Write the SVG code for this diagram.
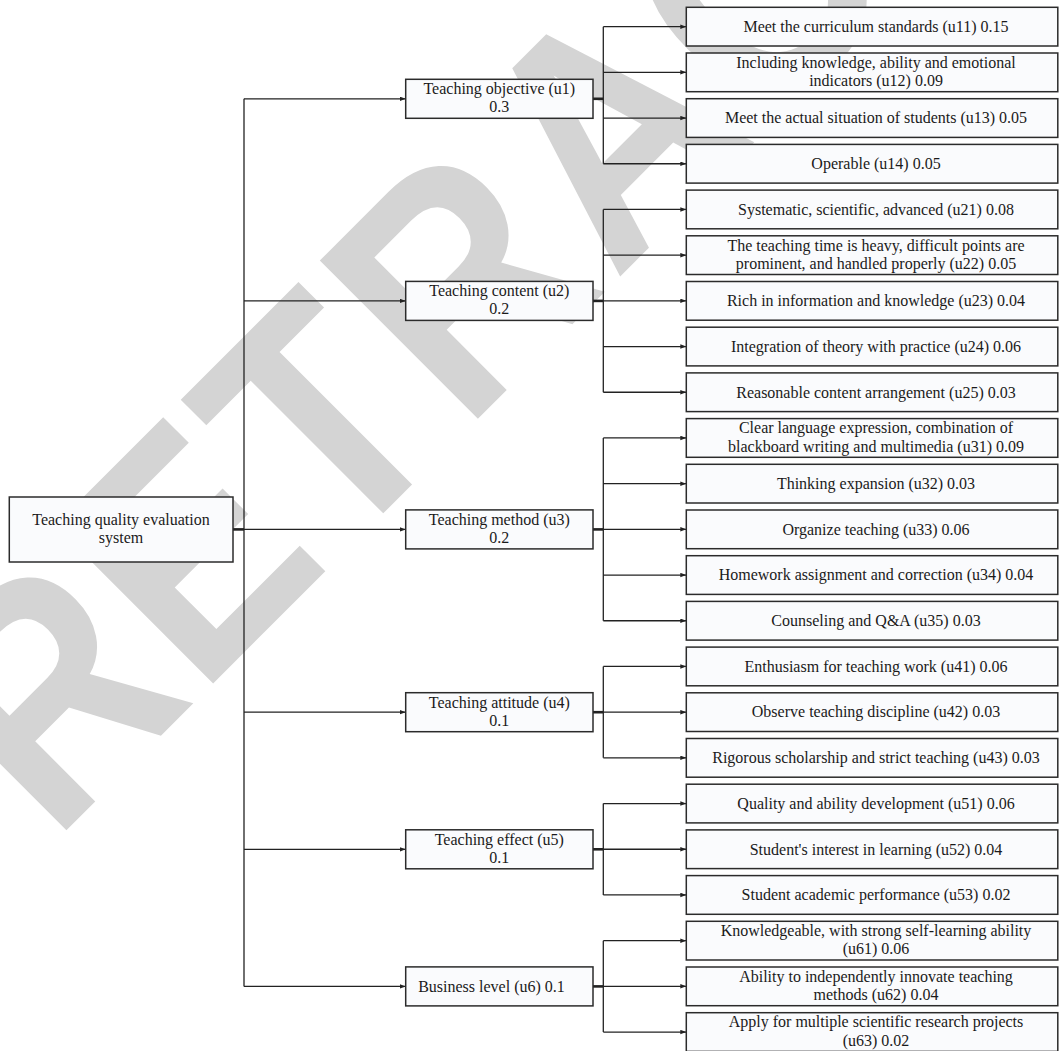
<svg xmlns="http://www.w3.org/2000/svg" width="1059" height="1051" viewBox="0 0 1059 1051">
<style>
.bx{fill:#fafbfd;stroke:#2b2b2b;stroke-width:1.5}
.t{font-family:"Liberation Serif","Times New Roman",serif;font-size:16px;fill:#1a1a1a;text-anchor:middle}
.ln{fill:none;stroke:#222;stroke-width:1.3}
.st{fill:none;stroke:#222;stroke-width:2.6}
.ar{marker-end:url(#ah)}
.wm{font-family:"Liberation Sans",Arial,sans-serif;font-weight:bold;font-size:325px;fill:#d4d4d4}
</style>
<defs>
<marker id="ah" markerWidth="7" markerHeight="5" refX="6" refY="2.25" orient="auto" markerUnits="userSpaceOnUse"><path d="M0,0 L6,2.25 L0,4.5 z" fill="#222"/></marker>
</defs>
<rect width="1059" height="1051" fill="#ffffff"/>
<text class="wm" transform="rotate(-45) scale(0.87,1)" x="-642.5 -404 -181.6 26.4 271.3 505.7 740.2 939.1 1156.3" y="634">RETRACTED</text>
<g id="connectors">
<path class="st" d="M233,529.4 H244"/>
<path class="ln" d="M244,98.8 V986.4"/>
<path class="ln ar" d="M244,98.8 H405.7"/>
<path class="ln ar" d="M244,300.9 H405.7"/>
<path class="ln ar" d="M244,529.4 H405.7"/>
<path class="ln ar" d="M244,712.2 H405.7"/>
<path class="ln ar" d="M244,849.3 H405.7"/>
<path class="ln ar" d="M244,986.4 H405.7"/>
<path class="st" d="M593,98.8 H603.3"/>
<path class="st" d="M593,300.9 H603.3"/>
<path class="st" d="M593,529.4 H603.3"/>
<path class="st" d="M593,712.2 H603.3"/>
<path class="st" d="M593,849.3 H603.3"/>
<path class="st" d="M593,986.4 H603.3"/>
<path class="ln" d="M603.3,26.65 V163.75"/>
<path class="ln" d="M603.3,209.45 V392.25"/>
<path class="ln" d="M603.3,437.95 V620.75"/>
<path class="ln" d="M603.3,666.45 V757.85"/>
<path class="ln" d="M603.3,803.55 V894.95"/>
<path class="ln" d="M603.3,940.65 V1032.05"/>
<path class="ln ar" d="M603.3,26.65 H686.3"/>
<path class="ln ar" d="M603.3,72.35 H686.3"/>
<path class="ln ar" d="M603.3,118.05 H686.3"/>
<path class="ln ar" d="M603.3,163.75 H686.3"/>
<path class="ln ar" d="M603.3,209.45 H686.3"/>
<path class="ln ar" d="M603.3,255.15 H686.3"/>
<path class="ln ar" d="M603.3,300.85 H686.3"/>
<path class="ln ar" d="M603.3,346.55 H686.3"/>
<path class="ln ar" d="M603.3,392.25 H686.3"/>
<path class="ln ar" d="M603.3,437.95 H686.3"/>
<path class="ln ar" d="M603.3,483.65 H686.3"/>
<path class="ln ar" d="M603.3,529.35 H686.3"/>
<path class="ln ar" d="M603.3,575.05 H686.3"/>
<path class="ln ar" d="M603.3,620.75 H686.3"/>
<path class="ln ar" d="M603.3,666.45 H686.3"/>
<path class="ln ar" d="M603.3,712.15 H686.3"/>
<path class="ln ar" d="M603.3,757.85 H686.3"/>
<path class="ln ar" d="M603.3,803.55 H686.3"/>
<path class="ln ar" d="M603.3,849.25 H686.3"/>
<path class="ln ar" d="M603.3,894.95 H686.3"/>
<path class="ln ar" d="M603.3,940.65 H686.3"/>
<path class="ln ar" d="M603.3,986.35 H686.3"/>
<path class="ln ar" d="M603.3,1032.05 H686.3"/>
</g>
<g id="root"><rect class="bx" x="9.3" y="497" width="223.7" height="65"/><text class="t" x="121" y="525">Teaching quality evaluation</text><text class="t" x="121" y="543">system</text></g>
<g id="u1"><rect class="bx" x="405.7" y="79.3" width="187.3" height="39"/><text class="t" x="499.3" y="94.2">Teaching objective (u1)</text><text class="t" x="499.3" y="112.2">0.3</text></g>
<g id="u2"><rect class="bx" x="405.7" y="281.4" width="187.3" height="39"/><text class="t" x="499.3" y="296.3">Teaching content (u2)</text><text class="t" x="499.3" y="314.3">0.2</text></g>
<g id="u3"><rect class="bx" x="405.7" y="509.9" width="187.3" height="39"/><text class="t" x="499.3" y="524.8">Teaching method (u3)</text><text class="t" x="499.3" y="542.8">0.2</text></g>
<g id="u4"><rect class="bx" x="405.7" y="692.7" width="187.3" height="39"/><text class="t" x="499.3" y="707.6">Teaching attitude (u4)</text><text class="t" x="499.3" y="725.6">0.1</text></g>
<g id="u5"><rect class="bx" x="405.7" y="829.8" width="187.3" height="39"/><text class="t" x="499.3" y="844.7">Teaching effect (u5)</text><text class="t" x="499.3" y="862.7">0.1</text></g>
<g id="u6"><rect class="bx" x="405.7" y="966.9" width="187.3" height="39"/><text class="t" x="491.5" y="991.7">Business level (u6) 0.1</text></g>
<g id="u11"><rect class="bx" x="686.3" y="7.3" width="371.5" height="38.7"/><text class="t" x="876" y="31.9">Meet the curriculum standards (u11) 0.15</text></g>
<g id="u12"><rect class="bx" x="686.3" y="53" width="371.5" height="38.7"/><text class="t" x="876" y="67.7">Including knowledge, ability and emotional</text><text class="t" x="876" y="86">indicators (u12) 0.09</text></g>
<g id="u13"><rect class="bx" x="686.3" y="98.7" width="371.5" height="38.7"/><text class="t" x="876" y="123.3">Meet the actual situation of students (u13) 0.05</text></g>
<g id="u14"><rect class="bx" x="686.3" y="144.4" width="371.5" height="38.7"/><text class="t" x="876" y="169">Operable (u14) 0.05</text></g>
<g id="u21"><rect class="bx" x="686.3" y="190.1" width="371.5" height="38.7"/><text class="t" x="876" y="214.7">Systematic, scientific, advanced (u21) 0.08</text></g>
<g id="u22"><rect class="bx" x="686.3" y="235.8" width="371.5" height="38.7"/><text class="t" x="876" y="250.5">The teaching time is heavy, difficult points are</text><text class="t" x="876" y="268.8">prominent, and handled properly (u22) 0.05</text></g>
<g id="u23"><rect class="bx" x="686.3" y="281.5" width="371.5" height="38.7"/><text class="t" x="876" y="306.1">Rich in information and knowledge (u23) 0.04</text></g>
<g id="u24"><rect class="bx" x="686.3" y="327.2" width="371.5" height="38.7"/><text class="t" x="876" y="351.8">Integration of theory with practice (u24) 0.06</text></g>
<g id="u25"><rect class="bx" x="686.3" y="372.9" width="371.5" height="38.7"/><text class="t" x="876" y="397.5">Reasonable content arrangement (u25) 0.03</text></g>
<g id="u31"><rect class="bx" x="686.3" y="418.6" width="371.5" height="38.7"/><text class="t" x="876" y="433.3">Clear language expression, combination of</text><text class="t" x="876" y="451.6">blackboard writing and multimedia (u31) 0.09</text></g>
<g id="u32"><rect class="bx" x="686.3" y="464.3" width="371.5" height="38.7"/><text class="t" x="876" y="488.9">Thinking expansion (u32) 0.03</text></g>
<g id="u33"><rect class="bx" x="686.3" y="510" width="371.5" height="38.7"/><text class="t" x="876" y="534.6">Organize teaching (u33) 0.06</text></g>
<g id="u34"><rect class="bx" x="686.3" y="555.7" width="371.5" height="38.7"/><text class="t" x="876" y="580.3">Homework assignment and correction (u34) 0.04</text></g>
<g id="u35"><rect class="bx" x="686.3" y="601.4" width="371.5" height="38.7"/><text class="t" x="876" y="626">Counseling and Q&amp;A (u35) 0.03</text></g>
<g id="u41"><rect class="bx" x="686.3" y="647.1" width="371.5" height="38.7"/><text class="t" x="876" y="671.7">Enthusiasm for teaching work (u41) 0.06</text></g>
<g id="u42"><rect class="bx" x="686.3" y="692.8" width="371.5" height="38.7"/><text class="t" x="876" y="717.4">Observe teaching discipline (u42) 0.03</text></g>
<g id="u43"><rect class="bx" x="686.3" y="738.5" width="371.5" height="38.7"/><text class="t" x="876" y="763.1">Rigorous scholarship and strict teaching (u43) 0.03</text></g>
<g id="u51"><rect class="bx" x="686.3" y="784.2" width="371.5" height="38.7"/><text class="t" x="876" y="808.8">Quality and ability development (u51) 0.06</text></g>
<g id="u52"><rect class="bx" x="686.3" y="829.9" width="371.5" height="38.7"/><text class="t" x="876" y="854.5">Student's interest in learning (u52) 0.04</text></g>
<g id="u53"><rect class="bx" x="686.3" y="875.6" width="371.5" height="38.7"/><text class="t" x="876" y="900.2">Student academic performance (u53) 0.02</text></g>
<g id="u61"><rect class="bx" x="686.3" y="921.3" width="371.5" height="38.7"/><text class="t" x="876" y="936">Knowledgeable, with strong self-learning ability</text><text class="t" x="876" y="954.3">(u61) 0.06</text></g>
<g id="u62"><rect class="bx" x="686.3" y="967" width="371.5" height="38.7"/><text class="t" x="876" y="981.7">Ability to independently innovate teaching</text><text class="t" x="876" y="1000">methods (u62) 0.04</text></g>
<g id="u63"><rect class="bx" x="686.3" y="1012.7" width="371.5" height="38.7"/><text class="t" x="876" y="1027.4">Apply for multiple scientific research projects</text><text class="t" x="876" y="1045.7">(u63) 0.02</text></g>
</svg>
